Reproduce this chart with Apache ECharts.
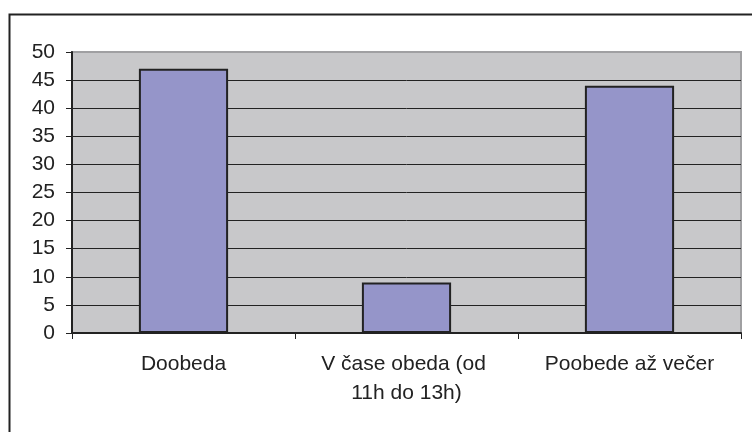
<!DOCTYPE html>
<html>
<head>
<meta charset="utf-8">
<script src="https://cdn.jsdelivr.net/npm/echarts@6/dist/echarts.min.js"></script>
<style>html,body{margin:0;padding:0;background:#fff;}#c{width:752px;height:432px;}</style>
</head>
<body>
<div id="c"></div>
<script>
const categories = ["Doobeda", "V čase obeda (od 11h do 13h)", "Poobede až večer"];
const values = [47, 9, 44];
const yTicks = [0, 5, 10, 15, 20, 25, 30, 35, 40, 45, 50];

const chart = echarts.init(document.getElementById('c'), null, {renderer: 'canvas'});
const font = '"Liberation Sans", Arial, sans-serif';
chart.setOption({
  animation: false,
  backgroundColor: '#ffffff',
  graphic: [{
    type: 'rect', left: 7, top: 12, z: -10,
    shape: {width: 800, height: 500},
    style: {fill: 'none', stroke: '#222', lineWidth: 2}
  }],
  grid: {
    left: 72, top: 52, right: 11, bottom: 99,
    show: true, backgroundColor: '#c8c8ca', borderColor: '#a0a0a2', borderWidth: 2
  },
  xAxis: {
    type: 'category',
    data: categories,
    axisLine: {lineStyle: {color: '#222', width: 2}},
    axisTick: {show: true, length: 6, lineStyle: {color: '#222', width: 1}},
    axisLabel: {
      color: '#222', fontFamily: font, fontSize: 21, margin: 17, lineHeight: 29,
      width: 205, overflow: 'break', interval: 0
    }
  },
  yAxis: {
    type: 'value',
    min: yTicks[0], max: yTicks[yTicks.length - 1], interval: yTicks[1] - yTicks[0],
    axisLine: {show: true, lineStyle: {color: '#222', width: 2}},
    axisTick: {show: true, length: 6, lineStyle: {color: '#222', width: 1}},
    axisLabel: {color: '#222', fontFamily: font, fontSize: 21, margin: 17},
    splitLine: {show: true, lineStyle: {color: ['#222','#222','#222','#222','#222','#222','#222','#222','#222','#222','rgba(0,0,0,0)'], width: 1}}
  },
  series: [{
    type: 'bar',
    data: values,
    barWidth: '40%',
    itemStyle: {color: '#9595c9', borderColor: '#222', borderWidth: 2}
  }]
});
</script>
</body>
</html>
